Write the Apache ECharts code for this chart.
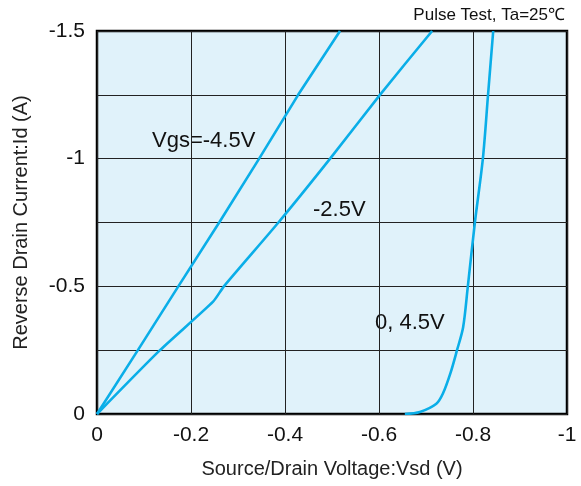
<!DOCTYPE html>
<html>
<head>
<meta charset="utf-8">
<script src="https://cdn.jsdelivr.net/npm/echarts@6/dist/echarts.min.js"></script>
<style>
  html, body { margin: 0; padding: 0; background: #fff; }
  #chart { width: 581px; height: 486px; }
</style>
</head>
<body>
<div id="chart"></div>
<script>
// Vsd (V), Id (A)
var vgsM45 = [[0, 0], [-0.087, -0.25], [-0.173, -0.5], [-0.26, -0.75], [-0.345, -1], [-0.428, -1.25], [-0.517, -1.5]];
var vgsM25 = [[0, 0], [-0.134, -0.25], [-0.247, -0.44], [-0.27, -0.5], [-0.386, -0.75], [-0.496, -1], [-0.602, -1.25], [-0.713, -1.5]];
var vgs0 = [[-0.655, 0], [-0.687, -0.008], [-0.722, -0.04], [-0.736, -0.08], [-0.752, -0.16], [-0.766, -0.25],
            [-0.779, -0.34], [-0.789, -0.5], [-0.804, -0.75], [-0.821, -1], [-0.832, -1.25], [-0.843, -1.5]];
var curveNames = ['Vgs=-4.5V', '-2.5V', '0, 4.5V'];

var font = 'Liberation Sans, Arial, sans-serif';
var lineColor = '#0aaee8';

function curve(name, data, smooth) {
    return {
        name: name,
        type: 'line',
        data: data,
        smooth: smooth,
        symbol: 'none',
        lineStyle: { color: lineColor, width: 2.6 },
        z: 5
    };
}

var chart = echarts.init(document.getElementById('chart'));
chart.setOption({
    animation: false,
    grid: {
        left: 97, top: 31, right: 14, bottom: 72,
        show: true,
        backgroundColor: '#e0f2fa',
        borderColor: '#000',
        borderWidth: 2.5
    },
    xAxis: {
        type: 'value',
        min: -1, max: 0, interval: 0.2,
        inverse: true,
        name: 'Source/Drain Voltage:Vsd (V)',
        nameLocation: 'middle',
        nameGap: 45,
        nameTextStyle: { color: '#222', fontSize: 20, fontFamily: font },
        axisLine: { show: false },
        axisTick: { show: false },
        axisLabel: {
            color: '#111', fontSize: 21, fontFamily: font, margin: 11,
            formatter: function (v) { return v === 0 ? '0' : String(+v.toFixed(1)); }
        },
        splitLine: { show: true, lineStyle: { color: '#222', width: 1 } }
    },
    yAxis: {
        type: 'value',
        min: -1.5, max: 0, interval: 0.25,
        inverse: true,
        name: 'Reverse Drain Current:Id (A)',
        nameLocation: 'middle',
        nameGap: 66,
        nameTextStyle: { color: '#222', fontSize: 20, fontFamily: font },
        axisLine: { show: false },
        axisTick: { show: false },
        axisLabel: {
            color: '#111', fontSize: 21, fontFamily: font, margin: 12,
            formatter: function (v) {
                if (Math.abs(v * 2 - Math.round(v * 2)) > 1e-6) return '';
                return v === 0 ? '0' : String(+v.toFixed(1));
            }
        },
        splitLine: { show: true, lineStyle: { color: '#222', width: 1 } }
    },
    graphic: [
        { type: 'text', left: 152, top: 130, style: { text: curveNames[0], fill: '#111', font: '22px ' + font } },
        { type: 'text', left: 313, top: 199, style: { text: curveNames[1], fill: '#111', font: '22px ' + font } },
        { type: 'text', left: 375, top: 312, style: { text: curveNames[2], fill: '#111', font: '22px ' + font } },
        { type: 'text', right: 16, top: 7, style: { text: 'Pulse Test, Ta=25℃', fill: '#111', font: '17px ' + font } }
    ],
    series: [
        curve(curveNames[0], vgsM45, false),
        curve(curveNames[1], vgsM25, 0.2),
        curve(curveNames[2], vgs0, 0.3)
    ]
});
</script>
</body>
</html>
